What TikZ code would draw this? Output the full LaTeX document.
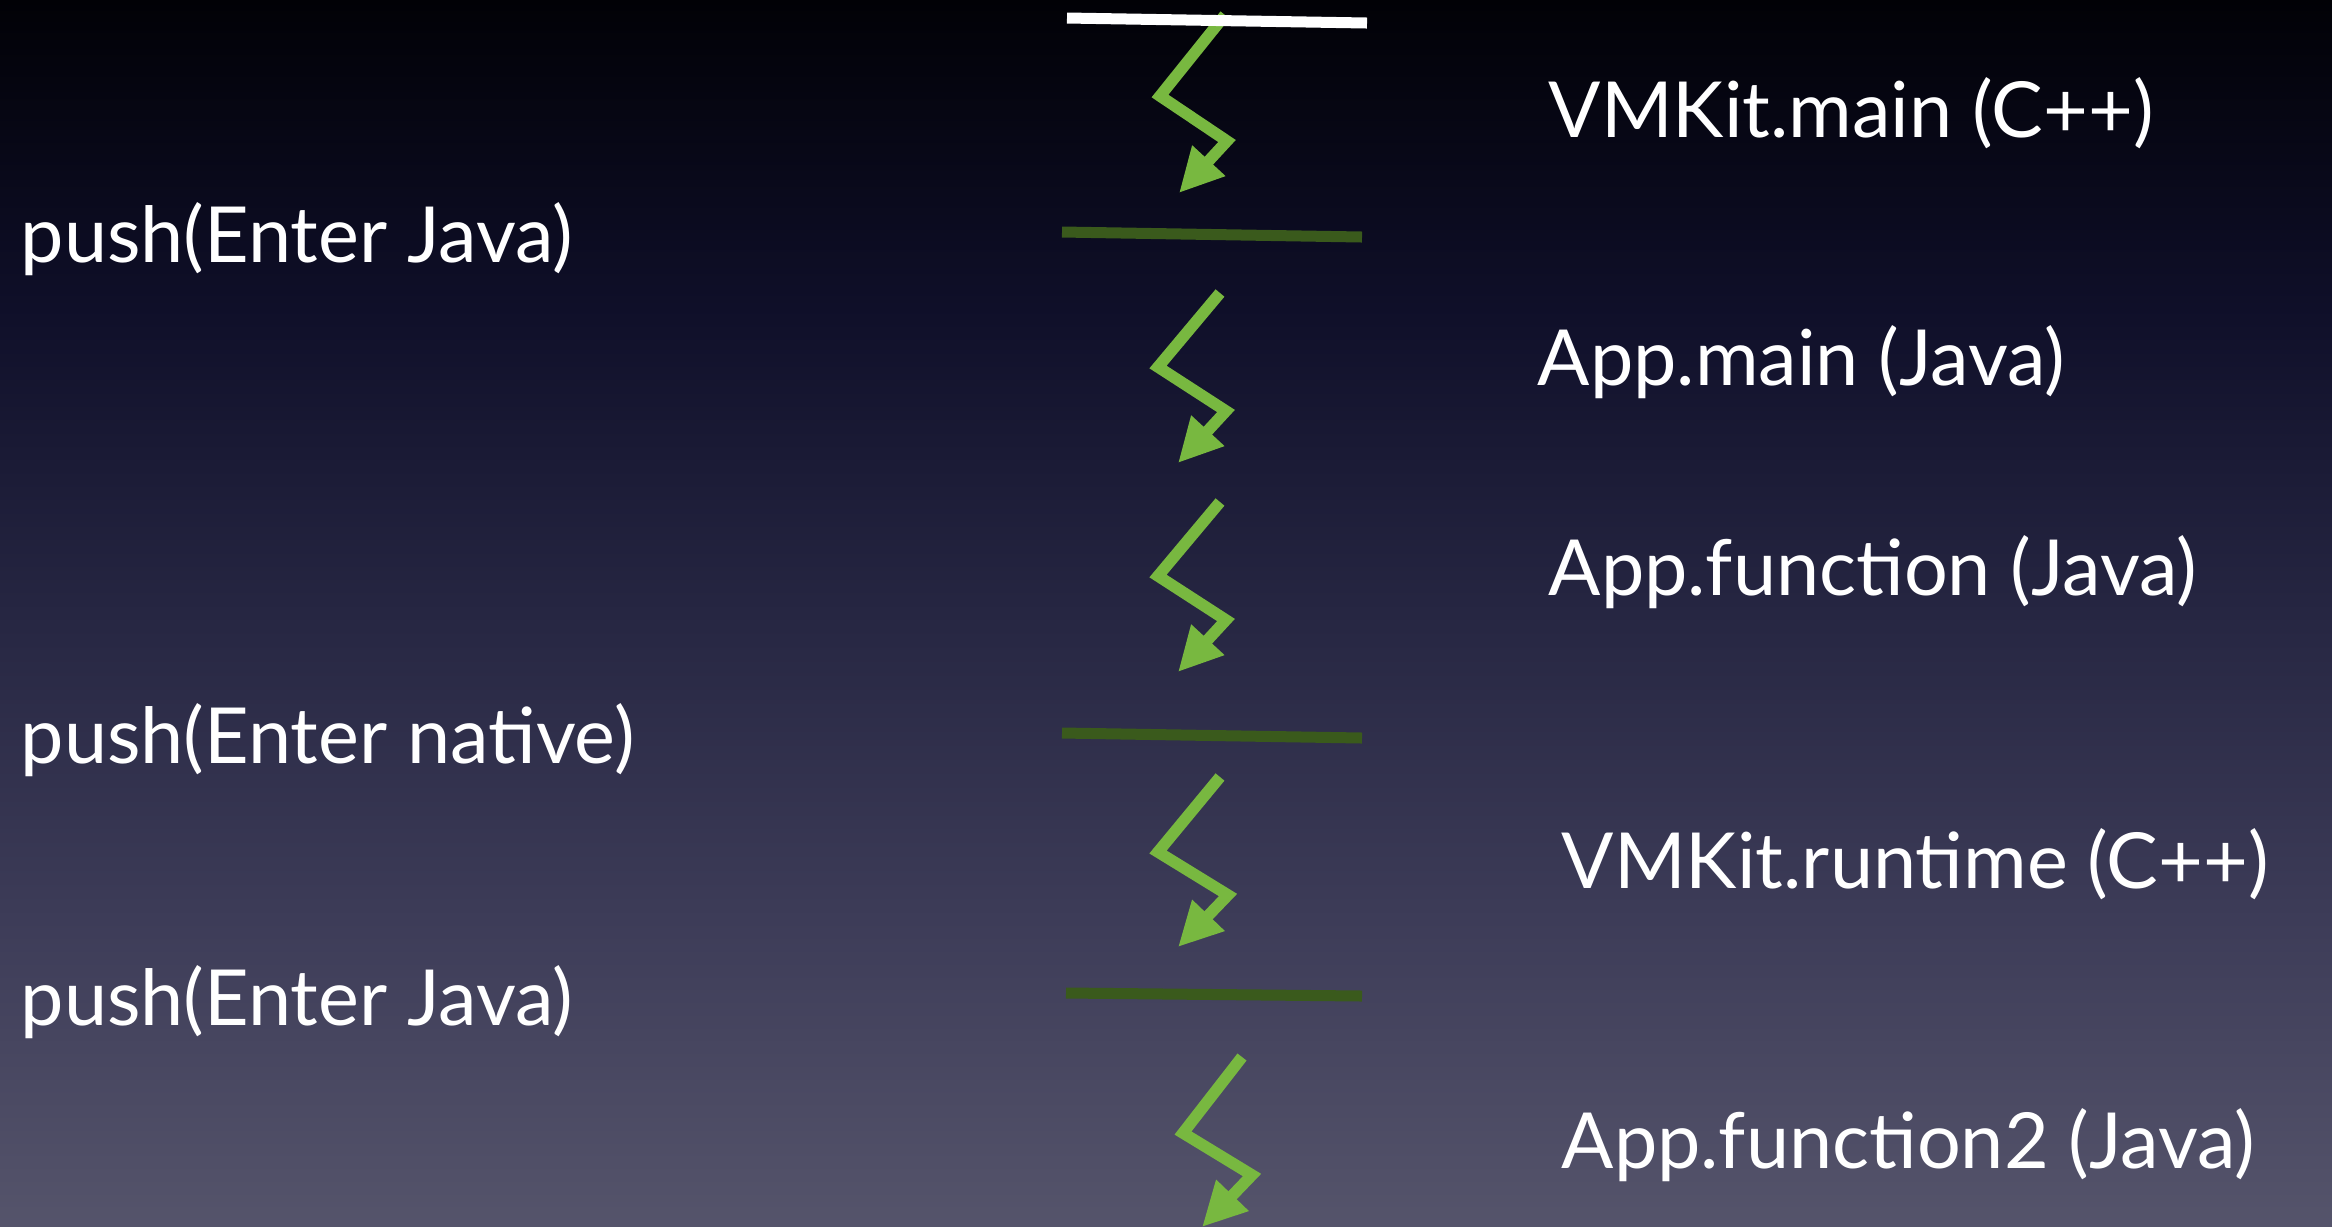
\documentclass[tikz,border=0pt]{standalone}
\usepackage{fontspec}
\setmainfont{Lato}
\usetikzlibrary{arrows.meta}

\definecolor{bgtop}{HTML}{010106}
\definecolor{bgupper}{HTML}{0F0F29}
\definecolor{bgmid}{HTML}{262642}
\definecolor{bglower}{HTML}{3D3C58}
\definecolor{bgbot}{HTML}{55546B}
\definecolor{boltgreen}{HTML}{78B840}
\definecolor{stackgreen}{HTML}{3A5A1C}

% the path is mapped onto 25bp..75bp of the shading
\pgfdeclareverticalshading{slidebg}{100bp}{color(0bp)=(bgbot); color(25bp)=(bgbot); color(37.5bp)=(bglower); color(50bp)=(bgmid); color(62.5bp)=(bgupper); color(75bp)=(bgtop); color(100bp)=(bgtop)}

\tikzset{
  slidetext/.style={text=white, anchor=base west, inner sep=0pt, font=\fontsize{22}{26}\selectfont},
  stackline/.style={line width=0.11cm},
  bolt/.style={boltgreen, line width=0.115cm, line join=miter, -{Triangle[length=0.44cm,width=0.42cm]}}
}

\begin{document}
\begin{tikzpicture}[x=0.01cm, y=-0.01cm]
  \useasboundingbox (0,0) rectangle (2332,1226);

  % Slide background
  \shade [shading=slidebg] (0,0) rectangle (2332,1226);

  % Drawing call arrows
  \draw [bolt] (1225,15) -- ++(-65,81) -- ++(67,45) -- ++(-48,52);
  \draw [bolt] (1220,293) -- ++(-62,74) -- ++(68,44) -- ++(-48,52);
  \draw [bolt] (1220,502) -- ++(-62,74) -- ++(68,44) -- ++(-48,52);
  \draw [bolt] (1220,777) -- ++(-62,75) -- ++(70,43) -- ++(-50,52);
  \draw [bolt] (1242,1057) -- ++(-59,76) -- ++(69,42) -- ++(-50,52);

  % Drawing stack boundaries
  \draw [stackline, white] (1067,18) -- (1367,23);
  \draw [stackline, stackgreen] (1062,232) -- (1362,237);
  \draw [stackline, stackgreen] (1062,733) -- (1362,738);
  \draw [stackline, stackgreen] (1066,993) -- (1362,996);

  % Frame names
  \node [slidetext] (vmkitmain) at (1548,137) {VMKit.main (C++)};
  \node [slidetext] (appmain) at (1537,385) {App.main (Java)};
  \node [slidetext] (appfunction) at (1548,595) {App.function (Java)};
  \node [slidetext] (vmkitruntime) at (1561,888) {VMKit.runtime (C++)};
  \node [slidetext] (appfunctiontwo) at (1561,1168) {App.function2 (Java)};

  % Pushed markers
  \node [slidetext] (pushjava) at (20,262) {push(Enter Java)};
  \node [slidetext] (pushnative) at (20,763) {push(Enter native)};
  \node [slidetext] (pushjavatwo) at (20,1025) {push(Enter Java)};
\end{tikzpicture}
\end{document}
